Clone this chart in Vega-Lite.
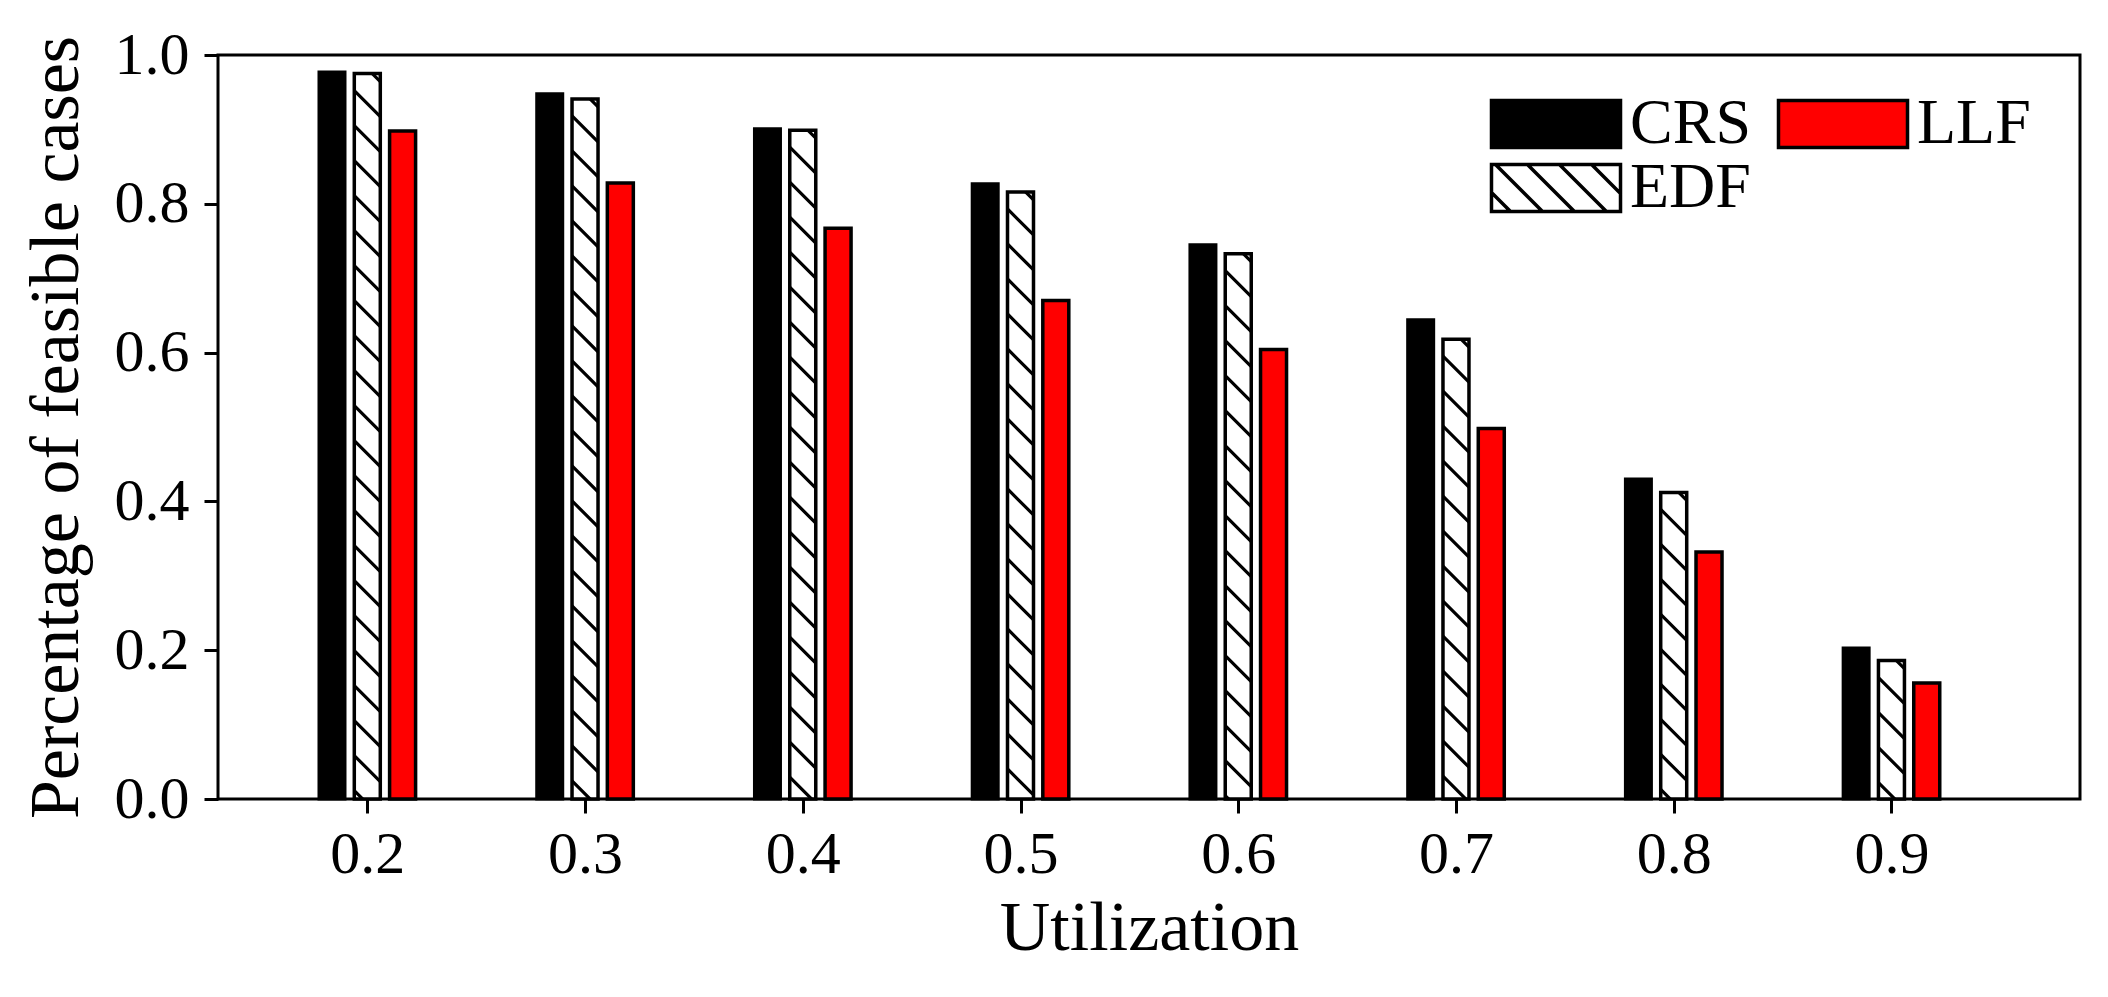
{
  "$schema": "https://vega.github.io/schema/vega-lite/v6.json",
  "width": 1862,
  "height": 744,
  "autosize": {"type": "none"},
  "padding": {"left": 218, "top": 55, "right": 28, "bottom": 198},
  "background": "white",
  "config": {
    "view": {"stroke": "black", "strokeWidth": 3},
    "font": "Liberation Serif",
    "axis": {
      "domain": false,
      "grid": false,
      "ticks": true,
      "tickColor": "black",
      "tickWidth": 3,
      "tickSize": 14,
      "labelFont": "Liberation Serif",
      "labelFontSize": 60,
      "labelColor": "black",
      "titleFont": "Liberation Serif",
      "titleFontSize": 70,
      "titleFontWeight": "normal",
      "titleColor": "black"
    },
    "legend": {
      "orient": "none",
      "legendX": 1266,
      "legendY": 37,
      "columns": 2,
      "padding": 0,
      "symbolSize": 2209,
      "symbolOffset": 40,
      "labelOffset": 42,
      "labelFont": "Liberation Serif",
      "labelFontSize": 64,
      "labelColor": "black",
      "columnPadding": 20,
      "rowPadding": -14,
      "symbolOpacity": 1,
      "symbolStrokeColor": "black",
      "symbolStrokeWidth": 3.5
    }
  },
  "data": {
    "values": [
      {"utilization": 0.2, "algorithm": "CRS", "feasible": 0.977},
      {"utilization": 0.2, "algorithm": "EDF", "feasible": 0.975},
      {"utilization": 0.2, "algorithm": "LLF", "feasible": 0.898},
      {"utilization": 0.3, "algorithm": "CRS", "feasible": 0.948},
      {"utilization": 0.3, "algorithm": "EDF", "feasible": 0.941},
      {"utilization": 0.3, "algorithm": "LLF", "feasible": 0.828},
      {"utilization": 0.4, "algorithm": "CRS", "feasible": 0.901},
      {"utilization": 0.4, "algorithm": "EDF", "feasible": 0.899},
      {"utilization": 0.4, "algorithm": "LLF", "feasible": 0.767},
      {"utilization": 0.5, "algorithm": "CRS", "feasible": 0.827},
      {"utilization": 0.5, "algorithm": "EDF", "feasible": 0.816},
      {"utilization": 0.5, "algorithm": "LLF", "feasible": 0.670},
      {"utilization": 0.6, "algorithm": "CRS", "feasible": 0.745},
      {"utilization": 0.6, "algorithm": "EDF", "feasible": 0.733},
      {"utilization": 0.6, "algorithm": "LLF", "feasible": 0.604},
      {"utilization": 0.7, "algorithm": "CRS", "feasible": 0.644},
      {"utilization": 0.7, "algorithm": "EDF", "feasible": 0.618},
      {"utilization": 0.7, "algorithm": "LLF", "feasible": 0.498},
      {"utilization": 0.8, "algorithm": "CRS", "feasible": 0.430},
      {"utilization": 0.8, "algorithm": "EDF", "feasible": 0.412},
      {"utilization": 0.8, "algorithm": "LLF", "feasible": 0.332},
      {"utilization": 0.9, "algorithm": "CRS", "feasible": 0.203},
      {"utilization": 0.9, "algorithm": "EDF", "feasible": 0.186},
      {"utilization": 0.9, "algorithm": "LLF", "feasible": 0.156}
    ]
  },
  "encoding": {
    "x": {
      "field": "utilization",
      "type": "quantitative",
      "scale": {"domain": [0.13373, 0.98430], "nice": false, "zero": false},
      "axis": {
        "values": [0.2, 0.3, 0.4, 0.5, 0.6, 0.7, 0.8, 0.9],
        "format": ".1f",
        "labelPadding": 12,
        "titlePadding": 10,
        "labelFlush": false
      },
      "title": "Utilization"
    },
    "y": {
      "field": "feasible",
      "type": "quantitative",
      "scale": {"domain": [0, 1], "nice": false},
      "axis": {
        "values": [0, 0.2, 0.4, 0.6, 0.8, 1.0],
        "format": ".1f",
        "labelPadding": 15,
        "titlePadding": 22,
        "labelFlush": false
      },
      "title": "Percentage of feasible cases"
    }
  },
  "layer": [
    {
      "transform": [{"filter": "datum.algorithm === 'CRS'"}],
      "mark": {"type": "bar", "width": 26, "xOffset": -35.3, "stroke": "black", "strokeWidth": 3},
      "encoding": {
        "fill": {
          "field": "algorithm",
          "type": "nominal",
          "scale": {"domain": ["CRS", "EDF", "LLF"], "range": ["#000000", "#ffffff", "#ff0000"]},
          "title": null
        }
      }
    },
    {
      "transform": [{"filter": "datum.algorithm === 'EDF'"}],
      "mark": {"type": "bar", "width": 26, "xOffset": 0, "stroke": "black", "strokeWidth": 3.5},
      "encoding": {
        "fill": {
          "field": "algorithm",
          "type": "nominal",
          "scale": {"domain": ["CRS", "EDF", "LLF"], "range": ["#000000", "#ffffff", "#ff0000"]},
          "title": null
        }
      }
    },
    {
      "transform": [{"filter": "datum.algorithm === 'LLF'"}],
      "mark": {"type": "bar", "width": 26, "xOffset": 35.3, "stroke": "black", "strokeWidth": 3.5},
      "encoding": {
        "fill": {
          "field": "algorithm",
          "type": "nominal",
          "scale": {"domain": ["CRS", "EDF", "LLF"], "range": ["#000000", "#ffffff", "#ff0000"]},
          "title": null
        }
      }
    },
    {
      "transform": [{"filter": "datum.algorithm === 'EDF'"}],
      "mark": {
        "type": "point",
        "clip": true,
        "filled": false,
        "opacity": 1,
        "stroke": "black",
        "strokeWidth": 3.2,
        "size": 4,
        "shape": "M5,0L13,8M-13,17L13,43M-13,52L13,78M-13,87L13,113M-13,122L13,148M-13,157L13,183M-13,192L13,218M-13,227L13,253M-13,262L13,288M-13,297L13,323M-13,332L13,358M-13,367L13,393M-13,402L13,428M-13,437L13,463M-13,472L13,498M-13,507L13,533M-13,542L13,568M-13,577L13,603M-13,612L13,638M-13,647L13,673M-13,682L13,708M-13,717L13,743M-13,752L13,778"
      },
      "encoding": {}
    },
    {
      "mark": {"type": "point", "filled": true, "opacity": 0, "strokeWidth": 3.5},
      "encoding": {
        "fill": {
          "field": "algorithm",
          "type": "nominal",
          "scale": {"domain": ["CRS", "EDF", "LLF"], "range": ["#000000", "#ffffff", "#ff0000"]},
          "title": null
        },
        "stroke": {
          "field": "algorithm",
          "type": "nominal",
          "scale": {"domain": ["CRS", "EDF", "LLF"], "range": ["#000000", "#000000", "#000000"]},
          "title": null
        },
        "shape": {
          "field": "algorithm",
          "type": "nominal",
          "scale": {
            "domain": ["CRS", "EDF", "LLF"],
            "range": [
              "M-2.745,-1H2.745V1H-2.745Z",
              "M-2.745,-1H2.745V1H-2.745ZM-2.575,-1L-0.575,1M-1.215,-1L0.785,1M0.145,-1L2.145,1M1.515,-1L2.745,0.23M-2.745,0.19L-1.935,1",
              "M-2.745,-1H2.745V1H-2.745Z"
            ]
          },
          "title": null
        }
      }
    }
  ]
}
